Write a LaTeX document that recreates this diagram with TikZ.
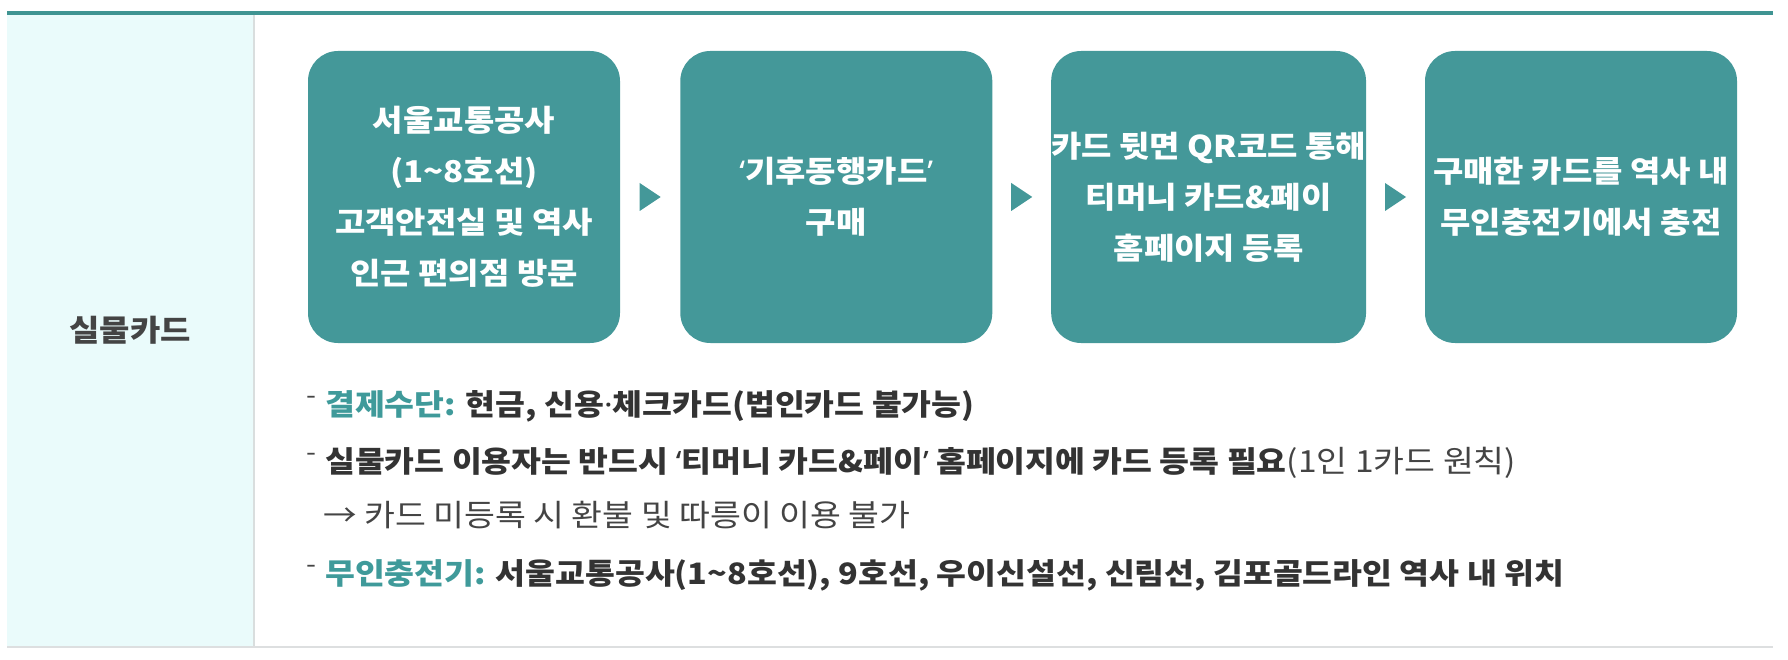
\documentclass[tikz,border=0pt]{standalone}
\usepackage{fontspec}
\setmainfont{Noto Sans CJK KR}[FakeStretch=1.1]
\newfontfamily\punctfont{Noto Sans}[FakeStretch=1.1]
\usetikzlibrary{calc}
\definecolor{topline}{HTML}{3F9492}
\definecolor{boxteal}{HTML}{449899}
\definecolor{panelbg}{HTML}{EAFBFB}
\definecolor{panelline}{HTML}{D9DEDE}
\definecolor{bottomline}{HTML}{DDDFE0}
\definecolor{tealtext}{HTML}{3F9A9A}
\definecolor{darktext}{HTML}{333333}
\definecolor{regtext}{HTML}{444444}
\newcommand{\myopenq}{{\punctfont ‘}}
\newcommand{\myclosq}{{\punctfont ’}}
\newcommand{\mymdot}{{\punctfont ·}}
\tikzset{
  stepbox/.style={fill=boxteal, rounded corners=30pt, minimum width=312pt, minimum height=292pt,
    inner sep=0pt, align=center, text=white, font=\fontsize{30}{51}\selectfont\bfseries},
  itemline/.style={anchor=west, inner sep=0pt, text=darktext, font=\fontsize{29.5}{34}\selectfont\bfseries},
  itemdash/.style={anchor=west, inner sep=0pt, text=regtext, font=\fontsize{26}{30}\selectfont},
  flowtri/.style={fill=boxteal}
}
\begin{document}
\begin{tikzpicture}[x=1pt,y=-1pt]
\useasboundingbox (0,0) rectangle (1788,660);
% frame
\fill[panelbg] (7,15) rectangle (253,646);
\fill[topline] (7,11) rectangle (1773,15);
\draw[panelline, line width=2pt] (254,15) -- (254,646);
\fill[bottomline] (7,646) rectangle (1773,648);
\node[inner sep=0pt, text=regtext, font=\fontsize{30}{36}\selectfont\bfseries] (label) at (130,330) {실물카드};
% step boxes
\node[stepbox] (b1) at (464,197) {서울교통공사\\(1\textasciitilde8호선)\\고객안전실 및 역사\\인근 편의점 방문};
\node[stepbox] (b2) at (836.3,197) {\myopenq 기후동행카드\myclosq\\구매};
\node[stepbox] (b3) at (1208.6,197) {카드 뒷면 QR코드 통해\\티머니 카드\&페이\\홈페이지 등록};
\node[stepbox] (b4) at (1581,197) {구매한 카드를 역사 내\\무인충전기에서 충전};
% triangles between boxes
\foreach \a/\b in {b1/b2,b2/b3,b3/b4}{
  \fill[flowtri] ($(\a.east)!0.5!(\b.west)$) ++(-10.5,-14) -- ++(21,14) -- ++(-21,14) -- cycle;
}
% notes
\node[itemdash] (d1) at (306,400) {-};
\node[itemline] (t1) at (325,406) {\textcolor{tealtext}{결제수단:} 현금, 신용\mymdot 체크카드(법인카드 불가능)};
\node[itemdash] (d2) at (306,457) {-};
\node[itemline] (t2) at (325,463) {실물카드 이용자는 반드시 \myopenq 티머니 카드\&페이\myclosq\ 홈페이지에 카드 등록 필요{\fontsize{30.5}{34}\selectfont\mdseries\color{regtext}(1인 1카드 원칙)}};
\node[itemline, font=\fontsize{30.5}{34}\selectfont\mdseries, text=regtext] (t3) at (323,515) {→ 카드 미등록 시 환불 및 따릉이 이용 불가};
\node[itemdash] (d4) at (306,569) {-};
\node[itemline] (t4) at (325,575) {\textcolor{tealtext}{무인충전기:} 서울교통공사(1\textasciitilde8호선), 9호선, 우이신설선, 신림선, 김포골드라인 역사 내 위치};
\end{tikzpicture}
\end{document}
